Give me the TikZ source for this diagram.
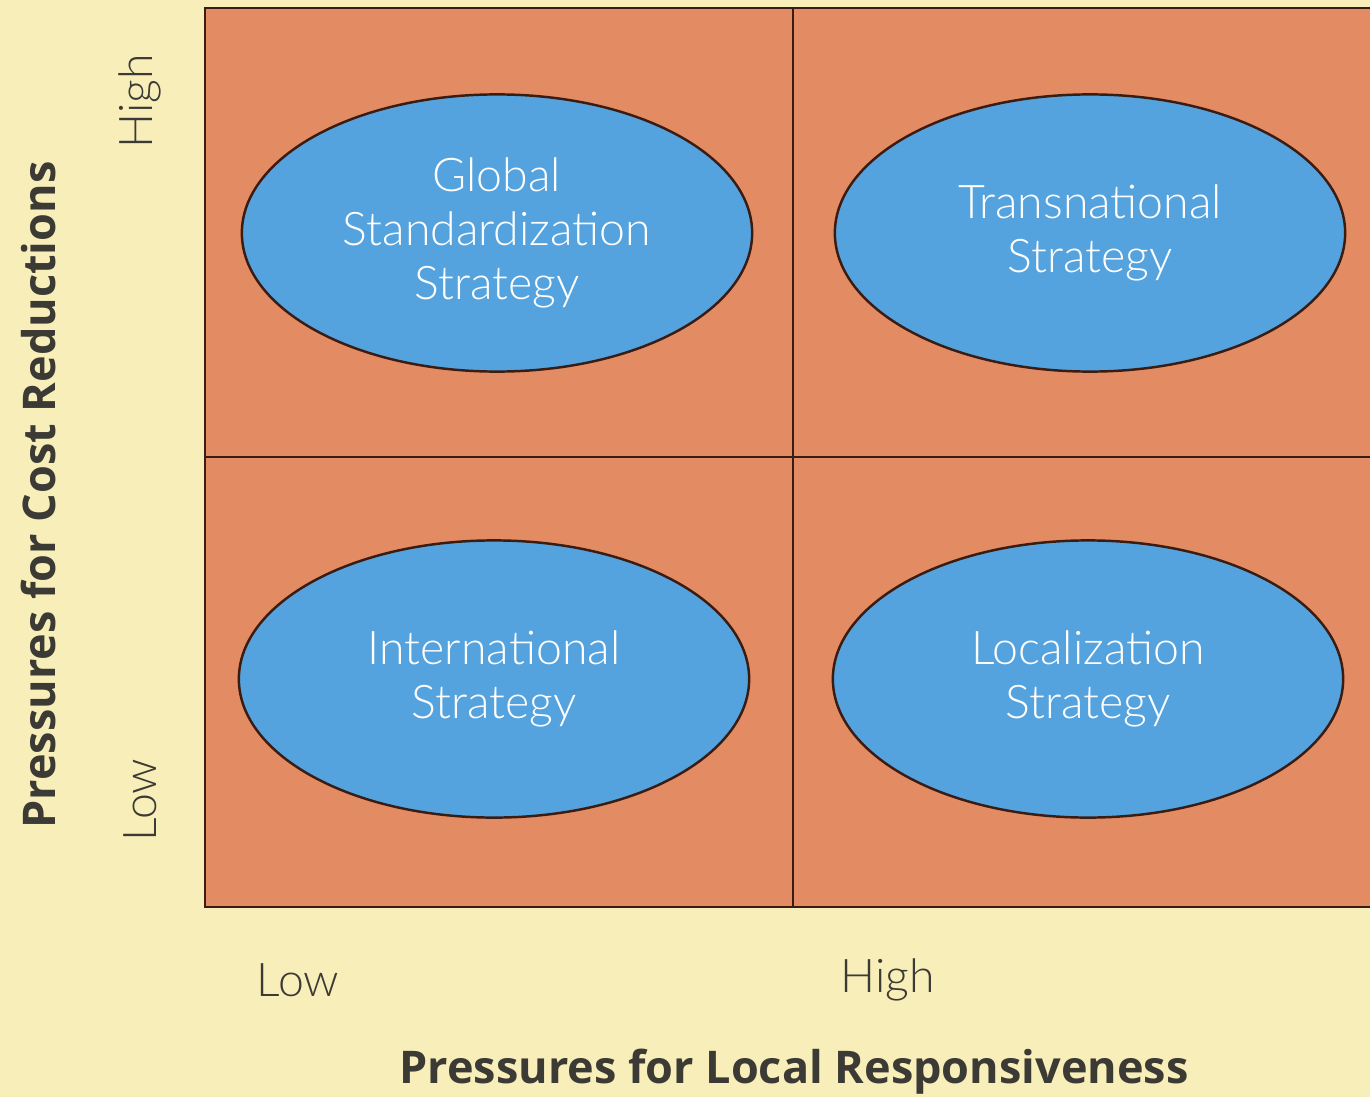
\documentclass[tikz,border=0pt]{standalone}
\usepackage{fontspec}
\setmainfont{Lato}
\newfontfamily\thinfont{Lato Light}
\newfontfamily\titlefont{Open Sans}
\usepackage{tikz}
\usetikzlibrary{
  positioning,
  shapes.geometric
}
\definecolor{paper}{HTML}{F8EEB9}
\definecolor{quad}{HTML}{E38B62}
\definecolor{strat}{HTML}{55A3DE}
\definecolor{rule}{HTML}{3A1C12}
\definecolor{ink}{HTML}{3C3A34}
\tikzset{
  strategy/.style={ellipse, draw=rule, line width=0.7pt, fill=strat,
    minimum width=5.1cm, minimum height=2.77cm, inner sep=0pt,
    text=white, align=center, font=\thinfont\fontsize{13.2}{15.4}\selectfont},
  level/.style={text=ink, font=\thinfont\fontsize{13.2}{15}\selectfont},
  axistitle/.style={text=ink, font=\titlefont\fontsize{12.8}{15}\selectfont\bfseries}
}

\begin{document}
\begin{tikzpicture}[x=0.01cm, y=-0.01cm]
    % 背景
    \fill[paper] (0,0) rectangle (1370,1097);
    \useasboundingbox (0,0) rectangle (1370,1097);
    \begin{scope}
      \clip (0,0) rectangle (1370,1097);
      % 四象限
      \fill[quad] (205,8) rectangle (1380,907);
      \draw[rule, line width=0.8pt] (1380,8) -- (205,8) -- (205,907) -- (1380,907);
      \draw[rule, line width=0.7pt] (793,8) -- (793,907);
      \draw[rule, line width=0.7pt] (205,457) -- (1380,457);
    \end{scope}

    % 戦略
    \node[strategy] (global) at (497,233) {Global\\Standardization\\Strategy};
    \node[strategy] (trans) at (1090,233) {Transnational\\Strategy};
    \node[strategy] (inter) at (494,679) {International\\Strategy};
    \node[strategy] (local) at (1088,679) {Localization\\Strategy};

    % 縦軸
    \node[level, rotate=90] (yhigh) at (140,101) {High};
    \node[level, rotate=90] (ylow) at (140,800) {Low};
    \node[axistitle, rotate=90] (ytitle) at (38,495) {Pressures for Cost Reductions};

    % 横軸
    \node[level] (xlow) at (298,980) {Low};
    \node[level] (xhigh) at (888,980) {High};
    \node[axistitle] (xtitle) at (794,1072) {Pressures for Local Responsiveness};
\end{tikzpicture}
\end{document}
